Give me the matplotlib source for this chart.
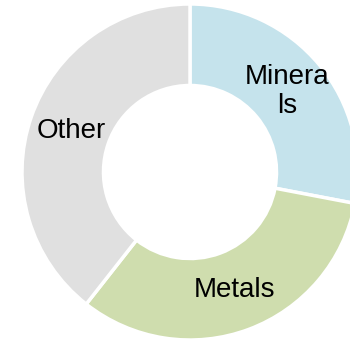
import matplotlib
matplotlib.use("Agg")
import matplotlib.pyplot as plt

labels = ["Minera\nls", "Metals", "Other"]
values = [28, 32.6, 39.4]
colors = ["#c5e3ec", "#cfddae", "#e0e0e0"]

plt.rcParams['font.family'] = ['Liberation Sans', 'DejaVu Sans']

fig = plt.figure(figsize=(3.5, 3.39), dpi=100)
ax = fig.add_axes([0, 0, 1, 1])
wedges, texts = ax.pie(values, labels=labels, colors=colors, startangle=90,
                       counterclock=False, radius=1, labeldistance=0.75,
                       wedgeprops=dict(width=0.485, edgecolor='white', linewidth=2.5),
                       textprops=dict(fontsize=20, color='black', ha='center', va='center'))
for t in texts:
    t.set_ha('center')
    t.set_va('center')
    t.set_linespacing(1.15)

ax.set_xlim(-190 / 168, 160 / 168)
ax.set_ylim(-167 / 168, 172 / 168)
ax.set_aspect('auto')
ax.axis('off')

plt.savefig("out.png", dpi=100)
